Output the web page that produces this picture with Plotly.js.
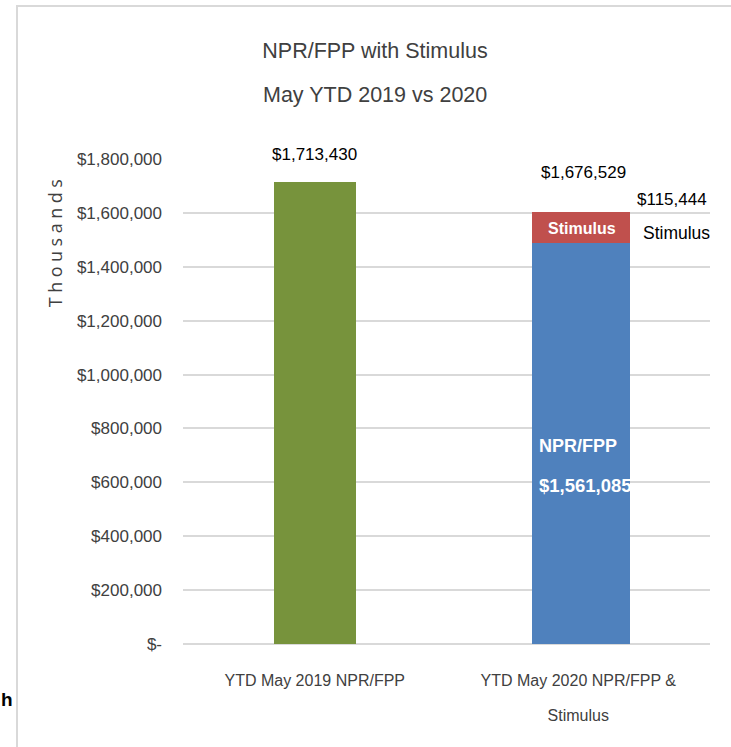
<!DOCTYPE html>
<html>
<head>
<meta charset="utf-8">
<script src="https://cdn.plot.ly/plotly-3.0.1.min.js"></script>
<style>
html, body { margin: 0; padding: 0; background: #ffffff; }
#chart { width: 731px; height: 747px; }
.annotation[data-index="0"] text { letter-spacing: 4.5px; }
</style>
</head>
<body>
<div id="chart"></div>
<script>
// ---- data ----
const categories = ["YTD May 2019 NPR/FPP", "YTD May 2020 NPR/FPP & Stimulus"];
const tickLabels = ["YTD May 2019 NPR/FPP", "YTD May 2020 NPR/FPP &<br>Stimulus"];
const npr2019 = [1713430];
const npr2020 = [1489000];
const stimulus2020 = [115444];
const yTickVals = [0, 200000, 400000, 600000, 800000, 1000000, 1200000, 1400000, 1600000, 1800000];
const yTickText = ["$-", "$200,000", "$400,000", "$600,000", "$800,000", "$1,000,000", "$1,200,000", "$1,400,000", "$1,600,000", "$1,800,000"];
const label2019 = "$1,713,430";
const label2020Total = "$1,676,529";
const labelStimulusValue = "$115,444";
const labelStimulus = "Stimulus";
const labelNpr = "NPR/FPP";
const labelNprValue = "$1,561,085";

// ---- layout geometry ----
const W = 731, H = 747;
const M = { l: 183, r: 21, t: 159, b: 103 };
const PW = W - M.l - M.r, PH = H - M.t - M.b;
const px = x => (x - M.l) / PW;
const py = y => (H - M.b - y) / PH;

const FONT = '"Liberation Sans", Arial, sans-serif';
const GREY_TXT = '#404040';

const stackTop = npr2020[0] + stimulus2020[0];

const traces = [
  {
    type: 'bar', name: 'YTD May 2019 NPR/FPP',
    x: [categories[0]], y: npr2019,
    width: [0.311], offset: [-0.155],
    marker: { color: '#77933C' },
    hoverinfo: 'y'
  },
  {
    type: 'bar', name: 'NPR/FPP',
    x: [categories[1]], y: npr2020,
    width: [0.372], offset: [-0.1755],
    marker: { color: '#4F81BD' },
    hoverinfo: 'y'
  },
  {
    type: 'bar', name: 'Stimulus',
    x: [categories[1]], y: stimulus2020,
    width: [0.372], offset: [-0.1755],
    marker: { color: '#C0504D' },
    hoverinfo: 'y'
  }
];

const annotations = [
  { // y-axis title (index 0: letter-spaced via CSS)
    xref: 'paper', yref: 'paper', x: px(55), y: py(241),
    xanchor: 'center', yanchor: 'middle', textangle: -90,
    text: 'Thousands', showarrow: false,
    font: { family: '"Open Sans", "DejaVu Sans", sans-serif', size: 18, color: GREY_TXT }
  },
  { // second title line
    xref: 'paper', yref: 'paper', x: px(375), y: py(95),
    xanchor: 'center', yanchor: 'middle',
    text: 'May YTD 2019 vs 2020', showarrow: false,
    font: { family: FONT, size: 21.5, color: GREY_TXT }
  },
  {
    x: categories[0], y: npr2019[0], yshift: 28, xanchor: 'center', yanchor: 'middle',
    text: label2019, showarrow: false,
    font: { family: FONT, size: 17, color: '#000000' }
  },
  {
    x: categories[1], y: stackTop, xshift: 5, yshift: 39, xanchor: 'center', yanchor: 'middle',
    text: label2020Total, showarrow: false,
    font: { family: FONT, size: 17, color: '#000000' }
  },
  {
    x: categories[1], y: stackTop, xshift: 94, yshift: 12, xanchor: 'center', yanchor: 'middle',
    text: labelStimulusValue, showarrow: false,
    font: { family: FONT, size: 17, color: '#000000' }
  },
  {
    x: categories[1], y: stackTop, xshift: 98, yshift: -21, xanchor: 'center', yanchor: 'middle',
    text: labelStimulus, showarrow: false,
    font: { family: FONT, size: 17.5, color: '#000000' }
  },
  {
    x: categories[1], y: npr2020[0] + stimulus2020[0] / 2, xshift: 4, yshift: -1,
    xanchor: 'center', yanchor: 'middle',
    text: '<b>' + labelStimulus + '</b>', showarrow: false,
    font: { family: FONT, size: 16, color: '#ffffff' }
  },
  {
    x: categories[1], y: npr2020[0] / 2, xshift: -41, yshift: -3,
    xanchor: 'left', yanchor: 'middle',
    text: '<b>' + labelNpr + '</b>', showarrow: false,
    font: { family: FONT, size: 18, color: '#ffffff' }
  },
  {
    x: categories[1], y: npr2020[0] / 2, xshift: -41, yshift: -42,
    xanchor: 'left', yanchor: 'middle',
    text: '<b>' + labelNprValue + '</b>', showarrow: false,
    font: { family: FONT, size: 18.5, color: '#ffffff' }
  },
  { // stray cropped text at left edge
    xref: 'paper', yref: 'paper', x: px(-1), y: py(699),
    xanchor: 'left', yanchor: 'middle',
    text: '<b>h</b>', showarrow: false,
    font: { family: FONT, size: 19, color: '#000000' }
  }
];

const shapes = [
  { type: 'line', xref: 'paper', yref: 'paper', x0: px(17), x1: px(17), y0: py(6), y1: py(H + 2),
    line: { color: '#d9d9d9', width: 2 } },
  { type: 'line', xref: 'paper', yref: 'paper', x0: px(16), x1: px(W + 2), y0: py(6), y1: py(6),
    line: { color: '#d9d9d9', width: 2 } }
];

const layout = {
  width: W, height: H,
  margin: M,
  paper_bgcolor: '#ffffff', plot_bgcolor: '#ffffff',
  showlegend: false,
  barmode: 'stack',
  title: {
    text: 'NPR/FPP with Stimulus',
    x: px(375), xref: 'paper', xanchor: 'center',
    y: 1 - 50 / H, yref: 'container', yanchor: 'middle',
    font: { family: FONT, size: 21.5, color: GREY_TXT }
  },
  xaxis: {
    type: 'category',
    range: [-0.5, 1.5], autorange: false,
    tickvals: categories, ticktext: tickLabels,
    showgrid: false, zeroline: false, showline: false, ticks: '',
    ticklabelstandoff: 25,
    tickfont: { family: FONT, size: 16, color: GREY_TXT }
  },
  yaxis: {
    range: [0, 1800000],
    tickvals: yTickVals, ticktext: yTickText,
    showgrid: true, gridcolor: '#d9d9d9', gridwidth: 2,
    zeroline: true, zerolinecolor: '#d9d9d9', zerolinewidth: 2,
    showline: false, ticks: '',
    ticklabelstandoff: 20,
    tickfont: { family: FONT, size: 17, color: GREY_TXT }
  },
  annotations: annotations,
  shapes: shapes
};

Plotly.newPlot('chart', traces, layout, { displayModeBar: false, staticPlot: true }).then(() => {
  document.querySelectorAll('.xtick text tspan.line').forEach((t) => {
    const dy = t.getAttribute('dy');
    if (dy && parseFloat(dy) > 0) t.setAttribute('dy', '2.2em');
  });
});
</script>
</body>
</html>
